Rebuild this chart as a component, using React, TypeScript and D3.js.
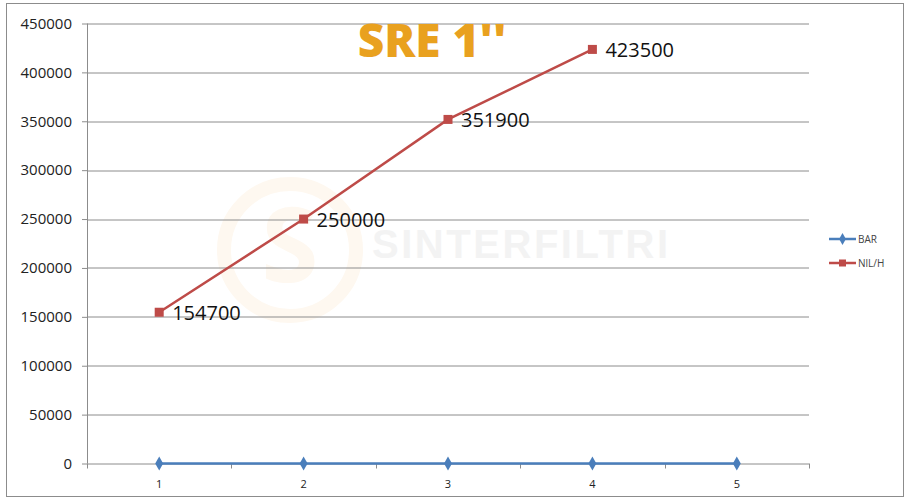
import * as React from 'react';
import * as d3 from 'd3';

const CATEGORIES = ['1', '2', '3', '4', '5'];
const BAR = [0, 0, 0, 0, 0];
const NLH = [154700, 250000, 351900, 423500];
const Y_TICKS = [0, 50000, 100000, 150000, 200000, 250000, 300000, 350000, 400000, 450000];
const SERIES_NAMES = ['BAR', 'NlL/H'];
const TITLE = "SRE 1''";

interface Pt {
    cat: string;
    v: number;
}

export default function App() {
    const svgRef = React.useRef<SVGSVGElement>(null);

    React.useEffect(() => {
        document.body.style.margin = '0';
        const svg = d3.select(svgRef.current);
        svg.selectAll('*').remove();

        /** ******** Canvas ********* */
        const W = 906;
        const H = 500;
        const MARGIN = { top: 23.5, right: 97, bottom: 36.5, left: 87 };
        const innerW = W - MARGIN.left - MARGIN.right;
        const innerH = H - MARGIN.top - MARGIN.bottom;
        const FONT = "'Open Sans', 'Liberation Sans', sans-serif";

        svg.append('rect')
            .attr('x', 6.5).attr('y', 3.5)
            .attr('width', 897).attr('height', 493)
            .attr('fill', '#fff').attr('stroke', '#8c8c8c').attr('stroke-width', 1);

        const g = svg.append('g').attr('transform', `translate(${MARGIN.left},${MARGIN.top})`);

        // Scales
        const x = d3.scaleBand().domain(CATEGORIES).range([0, innerW]);
        const y = d3.scaleLinear().domain([0, 450000]).range([innerH, 0]);
        const cx = (c: string) => x(c)! + x.bandwidth() / 2;

        /** ******** Watermark ********* */
        const wm = g.append('g');
        wm.append('circle')
            .attr('cx', 290 - MARGIN.left).attr('cy', 250 - MARGIN.top).attr('r', 66)
            .attr('fill', 'none').attr('stroke', '#fef8f0').attr('stroke-width', 14);
        wm.append('text')
            .attr('x', 290 - MARGIN.left).attr('y', 250 - MARGIN.top + 32)
            .attr('text-anchor', 'middle')
            .attr('font-family', FONT).attr('font-weight', 700).attr('font-size', 104)
            .attr('fill', '#fef8f0')
            .text('S');
        wm.append('text')
            .attr('x', 372 - MARGIN.left).attr('y', 258 - MARGIN.top)
            .attr('font-family', "'Liberation Sans', sans-serif").attr('font-weight', 700).attr('font-size', 40)
            .attr('fill', '#f3f3f3')
            .attr('textLength', 296)
            .text('SINTERFILTRI');

        /** ******** Grid & Axes ********* */
        g.append('g')
            .selectAll('line')
            .data(Y_TICKS.filter((t) => t > 0))
            .enter()
            .append('line')
            .attr('x1', 0).attr('x2', innerW)
            .attr('y1', (d) => Math.round(y(d)) + 0.5).attr('y2', (d) => Math.round(y(d)) + 0.5)
            .attr('stroke', '#8c8c8c').attr('stroke-width', 1);

        const yAxis = g.append('g').call(d3.axisLeft(y).tickValues(Y_TICKS).tickSize(5).tickPadding(10).tickFormat(d3.format('d')));
        yAxis.selectAll('line').attr('stroke', '#8c8c8c');
        yAxis.select('.domain').attr('stroke', '#8c8c8c').attr('d', `M0.5,0V${innerH}`);
        yAxis.selectAll('text').attr('font-family', FONT).attr('font-size', 15).attr('fill', '#222');

        const xAxisG = g.append('g').attr('transform', `translate(0,${innerH})`);
        xAxisG.append('line').attr('x1', 0).attr('x2', innerW).attr('y1', 0.5).attr('y2', 0.5).attr('stroke', '#8c8c8c');
        const bounds = CATEGORIES.map((c) => x(c)!).concat([innerW]);
        xAxisG.selectAll('line.tk').data(bounds).enter().append('line')
            .attr('class', 'tk')
            .attr('x1', (d) => Math.round(d) + 0.5).attr('x2', (d) => Math.round(d) + 0.5)
            .attr('y1', 0).attr('y2', 5).attr('stroke', '#8c8c8c');
        xAxisG.selectAll('text').data(CATEGORIES).enter().append('text')
            .attr('x', (d) => cx(d)).attr('y', 24)
            .attr('text-anchor', 'middle')
            .attr('font-family', FONT).attr('font-size', 11).attr('fill', '#222')
            .text((d) => d);

        /** ******** Series ********* */
        const barData: Pt[] = BAR.map((v, i) => ({ cat: CATEGORIES[i], v }));
        const nlhData: Pt[] = NLH.map((v, i) => ({ cat: CATEGORIES[i], v }));
        const line = d3.line<Pt>().x((d) => cx(d.cat)).y((d) => y(d.v));

        g.append('path').datum(barData).attr('d', line)
            .attr('fill', 'none').attr('stroke', '#4a7ebb').attr('stroke-width', 2.5);
        g.selectAll('path.dia').data(barData).enter().append('path')
            .attr('class', 'dia')
            .attr('d', d3.symbol().type(d3.symbolDiamond).size(55))
            .attr('transform', (d) => `translate(${cx(d.cat)},${y(d.v)})`)
            .attr('fill', '#4a7ebb');

        g.append('path').datum(nlhData).attr('d', line)
            .attr('fill', 'none').attr('stroke', '#be4b48').attr('stroke-width', 2.5);
        g.selectAll('rect.sq').data(nlhData).enter().append('rect')
            .attr('class', 'sq')
            .attr('x', (d) => cx(d.cat) - 4.5).attr('y', (d) => y(d.v) - 4.5)
            .attr('width', 9).attr('height', 9)
            .attr('fill', '#be4b48');
        g.selectAll('text.lbl').data(nlhData).enter().append('text')
            .attr('class', 'lbl')
            .attr('x', (d) => cx(d.cat) + 13).attr('y', (d) => y(d.v) + 8)
            .attr('font-family', FONT).attr('font-size', 20).attr('fill', '#111')
            .text((d) => String(d.v));

        /** ******** Title ********* */
        svg.append('text')
            .attr('x', 432).attr('y', 57)
            .attr('text-anchor', 'middle')
            .attr('font-family', FONT).attr('font-weight', 800).attr('font-size', 46)
            .attr('fill', '#e9a11f')
            .text(TITLE);

        /** ******** Legend ********* */
        const colors = ['#4a7ebb', '#be4b48'];
        const lg = svg.append('g').attr('transform', 'translate(829,239)');
        SERIES_NAMES.forEach((name, i) => {
            const row = lg.append('g').attr('transform', `translate(0,${i * 24})`);
            row.append('line').attr('x1', 0).attr('x2', 27).attr('y1', 0).attr('y2', 0)
                .attr('stroke', colors[i]).attr('stroke-width', 2.5);
            if (i === 0) {
                row.append('path').attr('d', d3.symbol().type(d3.symbolDiamond).size(40))
                    .attr('transform', 'translate(13.5,0)').attr('fill', colors[i]);
            } else {
                row.append('rect').attr('x', 10).attr('y', -3.5).attr('width', 7).attr('height', 7).attr('fill', colors[i]);
            }
            row.append('text').attr('x', 29).attr('y', 3.5)
                .attr('font-family', FONT).attr('font-size', 10).attr('fill', '#444')
                .text(name);
        });
    }, []);

    return <svg ref={svgRef} width={906} height={500} style={{ display: 'block' }} />;
}
